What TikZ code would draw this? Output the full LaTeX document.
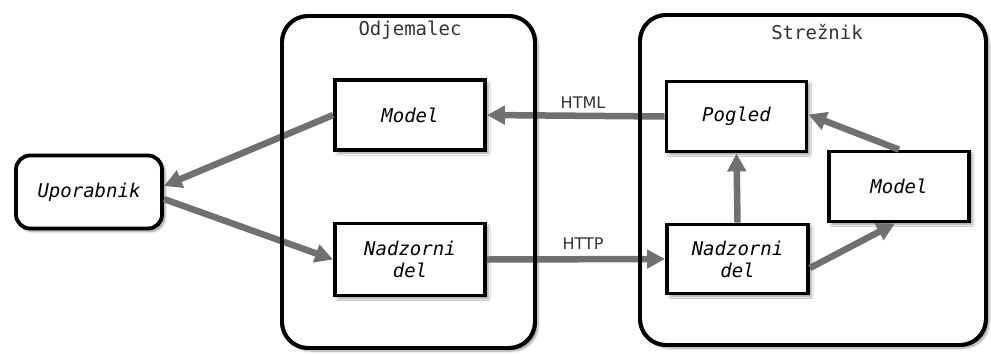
\documentclass[tikz,border=0pt]{standalone}
\usepackage{fontspec}
\setmainfont{DejaVu Sans}
\setsansfont{DejaVu Sans}
\setmonofont{DejaVu Sans Mono}
\usepackage{xcolor}
\usepackage{tikz}
\usetikzlibrary{arrows.meta}
\usetikzlibrary{shadows.blur}
\definecolor{arrowgray}{RGB}{112,112,112}
\def\boxw{150}
\def\boxh{70}

\begin{document}
\begin{tikzpicture}[x=1pt, y=-1pt,
		frame/.style={draw, line width=3.8pt, fill=white, rounded corners=26pt, inner sep=0pt, outer sep=0pt,
			blur shadow={shadow xshift=3pt, shadow yshift=-3pt, shadow blur steps=6}},
		block/.style={draw, line width=3.8pt, fill=white, minimum width=\boxw, minimum height=\boxh, align=center,
			font=\fontsize{19}{22}\selectfont\ttfamily\itshape,
			blur shadow={shadow xshift=3pt, shadow yshift=-3pt, shadow blur steps=6}},
		title/.style={font=\fontsize{19}{22}\selectfont\ttfamily, text=black!80},
		proto/.style={font=\fontsize{16}{19}\selectfont\sffamily, text=black!80},
		flow/.style={draw=arrowgray, line width=6.5pt, -{Triangle[length=18pt, width=18pt]}}]
	\useasboundingbox (0,0) rectangle (991,354);
	% containers
	\node[frame, minimum width=253, minimum height=332] (client) at (408.5,182) {};
	\node[frame, minimum width=346, minimum height=330] (server) at (813,180) {};
	\node[title] (clititle) at (410,30) {Odjemalec};
	\node[title] (srvtitle) at (817,32) {Strežnik};
	% blocks
	\node[block, rounded corners=14pt, minimum width=146, minimum height=73] (user) at (89,192) {Uporabnik};
	\node[block] (cmodel) at (410,115) {Model};
	\node[block, minimum height=72] (cctrl) at (410,259.5) {Nadzorni\\del};
	\node[block, minimum width=140] (sview) at (736.5,116.5) {Pogled};
	\node[block, minimum width=140] (smodel) at (899,186.5) {Model};
	\node[block, minimum width=141, minimum height=69] (sctrl) at (737.5,259) {Nadzorni\\del};
	% connectors
	\draw[flow] (cmodel.west) -- ([yshift=6pt]user.east);
	\draw[flow] ([yshift=-7pt]user.east) -- (cctrl.west);
	\draw[flow] (sview.west) -- (cmodel.east);
	\draw[flow] (cctrl.east) -- (sctrl.west);
	\draw[flow] (sctrl.north) -- (sview.south);
	\draw[flow] (smodel.north) -- ([yshift=2pt]sview.east);
	\draw[flow] ([yshift=-9pt]sctrl.east) -- ([xshift=-4pt]smodel.south);
	\node[proto] (htmllbl) at (583,103) {HTML};
	\node[proto] (httplbl) at (583,244) {HTTP};
	% borders over the connectors
	\draw[line width=3.8pt, rounded corners=26pt] (client.north west) rectangle (client.south east);
	\draw[line width=3.8pt, rounded corners=26pt] (server.north west) rectangle (server.south east);
\end{tikzpicture}
\end{document}
